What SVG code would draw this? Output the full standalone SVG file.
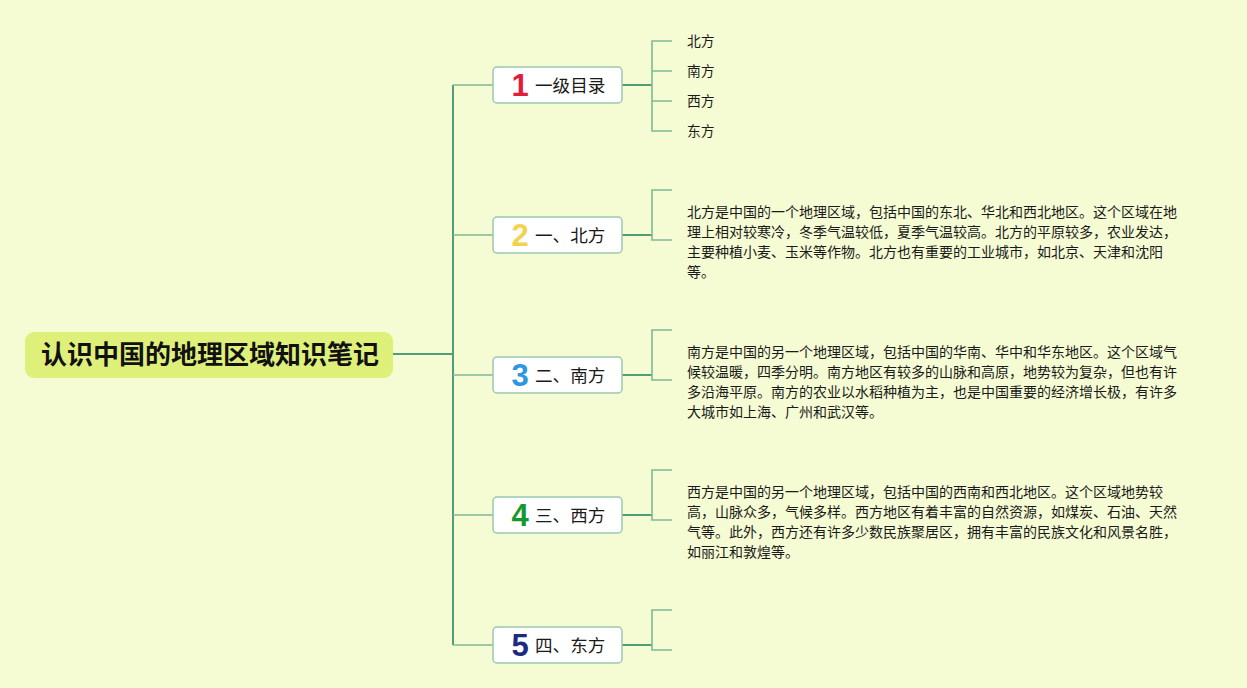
<svg xmlns="http://www.w3.org/2000/svg" width="1247" height="688" viewBox="0 0 1247 688">
<style>
.bg{fill:#f5fbd3}
.trunk{stroke:#4f9e78;stroke-width:2;fill:none}
.br{stroke:#7dbb95;stroke-width:1.6;fill:none}
.box{fill:#ffffff;stroke:#9cc7ae;stroke-width:1.5}
.lbl{font-family:"Noto Sans CJK SC","Noto Sans",sans-serif;font-size:17.6px;fill:#1a1a1a}
.num{font-family:"Liberation Sans","DejaVu Sans",sans-serif;font-size:31px;font-weight:bold;text-anchor:middle}
.leaf{font-family:"Noto Sans CJK SC","Noto Sans",sans-serif;font-size:13.8px;fill:#1a1a1a}
.para{font-family:"Noto Sans CJK SC","Noto Sans",sans-serif;font-size:14px;fill:#1a1a1a}
.root{font-family:"Noto Sans CJK SC","Noto Sans",sans-serif;font-size:26px;font-weight:bold;fill:#111;text-anchor:middle}
</style>
<rect class="bg" x="0" y="0" width="1247" height="688"/>
<g id="connectors">
<path class="trunk" d="M393 354H453M453 85V645"/>
<path class="br" d="M453 85H493M453 235H493M453 375H493M453 515H493M453 645H493"/>
<path class="trunk" d="M622 85H652M622 235H652M622 375H652M622 515H652M622 645H652"/>
<path class="br" d="M672 41H652V131H672M652 71H672M652 101H672"/>
<path class="br" d="M672 190H652V240H672"/>
<path class="br" d="M672 330H652V380H672"/>
<path class="br" d="M672 470H652V520H672"/>
<path class="br" d="M672 610H652V650H672"/>
</g>
<g id="root">
<rect x="25" y="332" width="368" height="46" rx="9" fill="#dff07a"/>
<text class="root" x="210" y="364">认识中国的地理区域知识笔记</text>
</g>
<g id="node1">
<rect class="box" x="493" y="67" width="129" height="36" rx="4"/>
<text class="num" x="520" y="96" fill="#e01e3c">1</text>
<text class="lbl" x="535" y="92">一级目录</text>
</g>
<g id="node2">
<rect class="box" x="493" y="217" width="129" height="36" rx="4"/>
<text class="num" x="520" y="246" fill="#f2d24e">2</text>
<text class="lbl" x="535" y="242">一、北方</text>
</g>
<g id="node3">
<rect class="box" x="493" y="357" width="129" height="36" rx="4"/>
<text class="num" x="520" y="386" fill="#2b98df">3</text>
<text class="lbl" x="535" y="382">二、南方</text>
</g>
<g id="node4">
<rect class="box" x="493" y="497" width="129" height="36" rx="4"/>
<text class="num" x="520" y="526" fill="#17972e">4</text>
<text class="lbl" x="535" y="522">三、西方</text>
</g>
<g id="node5">
<rect class="box" x="493" y="627" width="129" height="36" rx="4"/>
<text class="num" x="520" y="656" fill="#1c2a82">5</text>
<text class="lbl" x="535" y="652">四、东方</text>
</g>
<g id="leaves1">
<text class="leaf" x="687" y="46">北方</text>
<text class="leaf" x="687" y="76">南方</text>
<text class="leaf" x="687" y="106">西方</text>
<text class="leaf" x="687" y="136">东方</text>
</g>
<g id="text-north">
<text class="para" x="687" y="217">北方是中国的一个地理区域，包括中国的东北、华北和西北地区。这个区域在地</text>
<text class="para" x="687" y="237">理上相对较寒冷，冬季气温较低，夏季气温较高。北方的平原较多，农业发达，</text>
<text class="para" x="687" y="257">主要种植小麦、玉米等作物。北方也有重要的工业城市，如北京、天津和沈阳</text>
<text class="para" x="687" y="277">等。</text>
</g>
<g id="text-south">
<text class="para" x="687" y="357">南方是中国的另一个地理区域，包括中国的华南、华中和华东地区。这个区域气</text>
<text class="para" x="687" y="377">候较温暖，四季分明。南方地区有较多的山脉和高原，地势较为复杂，但也有许</text>
<text class="para" x="687" y="397">多沿海平原。南方的农业以水稻种植为主，也是中国重要的经济增长极，有许多</text>
<text class="para" x="687" y="417">大城市如上海、广州和武汉等。</text>
</g>
<g id="text-west">
<text class="para" x="687" y="497">西方是中国的另一个地理区域，包括中国的西南和西北地区。这个区域地势较</text>
<text class="para" x="687" y="517">高，山脉众多，气候多样。西方地区有着丰富的自然资源，如煤炭、石油、天然</text>
<text class="para" x="687" y="537">气等。此外，西方还有许多少数民族聚居区，拥有丰富的民族文化和风景名胜，</text>
<text class="para" x="687" y="557">如丽江和敦煌等。</text>
</g>
</svg>
